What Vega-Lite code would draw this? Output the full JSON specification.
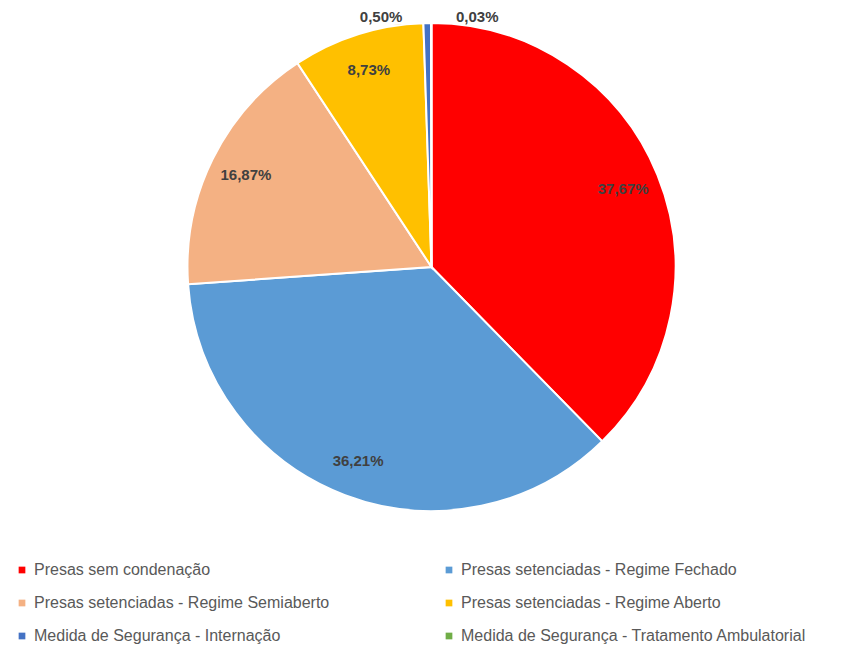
{
  "$schema": "https://vega.github.io/schema/vega-lite/v6.json",
  "width": 863,
  "height": 534,
  "padding": {"left": 0, "top": 0, "right": 0, "bottom": 114},
  "autosize": "none",
  "background": "white",
  "config": {"view": {"stroke": null}},
  "data": {
    "values": [
      {"cat": "Presas sem condenação", "value": 37.67, "label": "37,67%", "ord": 1},
      {"cat": "Presas setenciadas - Regime Fechado", "value": 36.21, "label": "36,21%", "ord": 2},
      {"cat": "Presas setenciadas - Regime Semiaberto", "value": 16.87, "label": "16,87%", "ord": 3},
      {"cat": "Presas setenciadas - Regime Aberto", "value": 8.73, "label": "8,73%", "ord": 4},
      {"cat": "Medida de Segurança - Internação", "value": 0.50, "label": "0,50%", "ord": 5},
      {"cat": "Medida de Segurança  - Tratamento Ambulatorial", "value": 0.03, "label": "0,03%", "ord": 6}
    ]
  },
  "encoding": {
    "theta": {"field": "value", "type": "quantitative", "stack": true},
    "order": {"field": "ord", "type": "quantitative"},
    "color": {
      "field": "cat",
      "type": "nominal",
      "scale": {
        "domain": ["Presas sem condenação", "Presas setenciadas - Regime Semiaberto", "Medida de Segurança - Internação", "Presas setenciadas - Regime Fechado", "Presas setenciadas - Regime Aberto", "Medida de Segurança  - Tratamento Ambulatorial"],
        "range": ["#FF0000", "#F4B183", "#4472C4", "#5B9BD5", "#FFC000", "#70AD47"]
      },
      "legend": {
        "title": null,
        "orient": "none",
        "legendX": 14,
        "legendY": 562,
        "columns": 2,
        "columnPadding": 111,
        "rowPadding": 17,
        "symbolType": "square",
        "symbolSize": 45,
        "symbolStrokeWidth": 0,
        "labelFont": "Liberation Sans",
        "labelFontSize": 16,
        "labelColor": "#595959",
        "labelLimit": 500
      }
    }
  },
  "layer": [
    {"mark": {"type": "arc", "outerRadius": 244, "stroke": "white", "strokeWidth": 2}},
    {
      "mark": {"type": "text", "radius": 207, "font": "Liberation Sans", "fontSize": 15, "fontWeight": "bold"},
      "encoding": {
        "text": {"condition": {"test": "datum.value > 1", "field": "label"}, "value": ""},
        "color": {"value": "#404040"}
      }
    },
    {
      "mark": {"type": "text", "radius": 250, "dx": -46, "font": "Liberation Sans", "fontSize": 15, "fontWeight": "bold"},
      "encoding": {
        "text": {"condition": {"test": "datum.ord == 5", "field": "label"}, "value": ""},
        "color": {"value": "#404040"}
      }
    },
    {
      "mark": {"type": "text", "radius": 250, "dx": 46, "font": "Liberation Sans", "fontSize": 15, "fontWeight": "bold"},
      "encoding": {
        "text": {"condition": {"test": "datum.ord == 6", "field": "label"}, "value": ""},
        "color": {"value": "#404040"}
      }
    }
  ]
}
